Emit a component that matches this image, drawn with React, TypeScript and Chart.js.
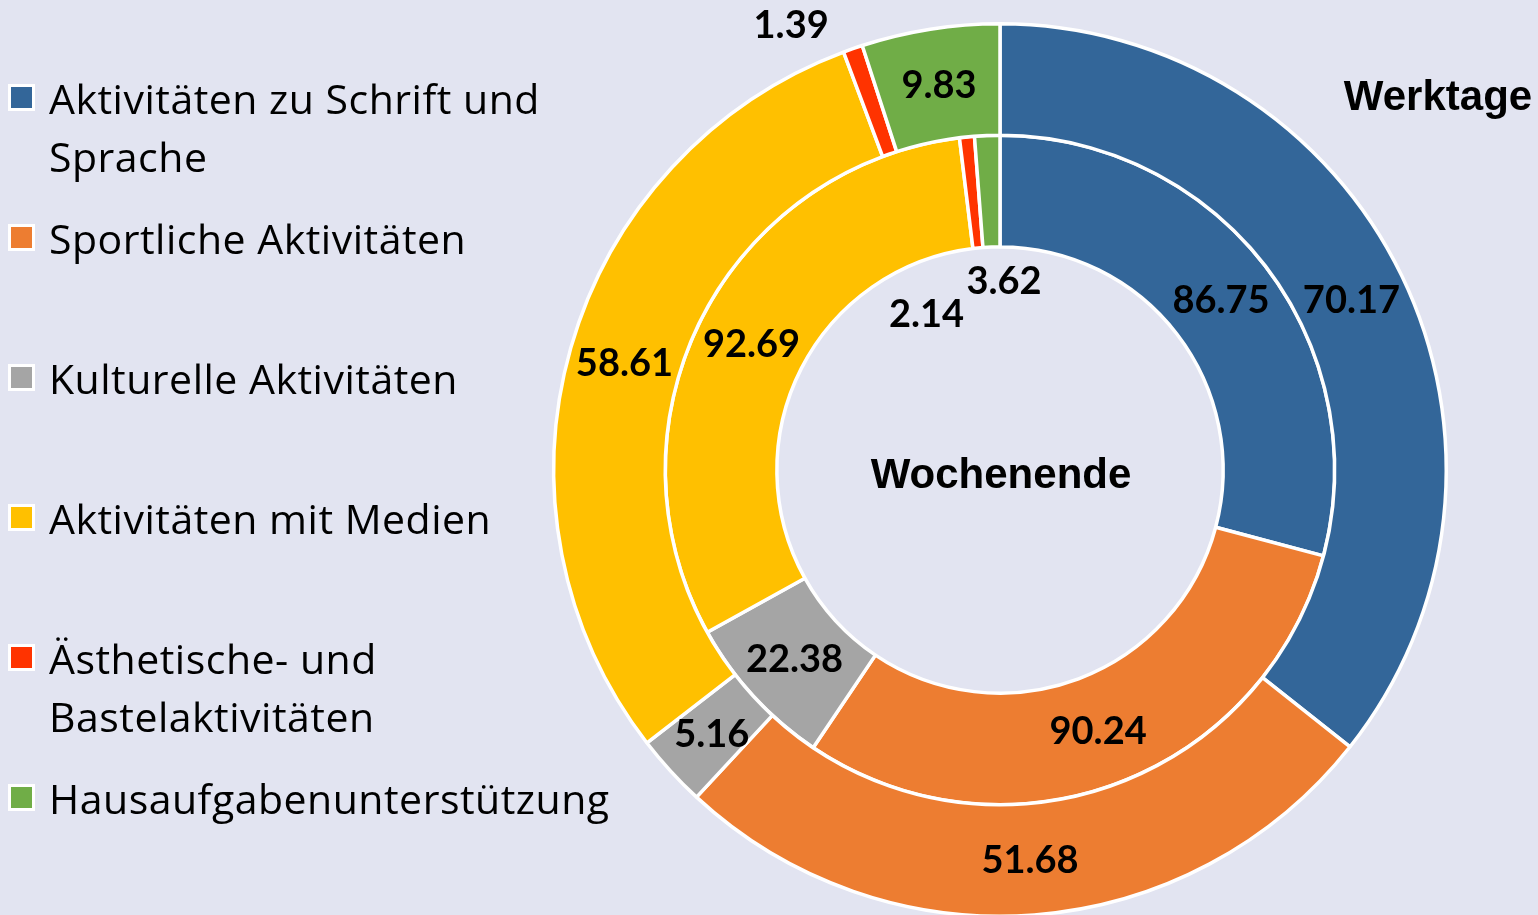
import React, { useEffect, useRef } from "react";
import { Chart, registerables } from "chart.js";

Chart.register(...registerables);

const categories = [
  "Aktivitäten zu Schrift und Sprache",
  "Sportliche Aktivitäten",
  "Kulturelle Aktivitäten",
  "Aktivitäten mit Medien",
  "Ästhetische- und Bastelaktivitäten",
  "Hausaufgabenunterstützung",
];
const seriesNames = ["Werktage", "Wochenende"];
const werktage = [70.17, 51.68, 5.16, 58.61, 1.39, 9.83];
const wochenende = [86.75, 90.24, 22.38, 92.69, 2.14, 3.62];
const colors = ["#336699", "#ED7D31", "#A5A5A5", "#FFC000", "#FF3300", "#70AD47"];

// label nudges per ring: [radial shift px, angular shift deg]
const outerLabelNudge = [[0, 0], [0, 0], [0, 0], [0, 0], [101, -5.9], [0, 0]];
const innerLabelNudge = [[0, 0], [0, 0], [0, 0], [0, 0], [-106, -19.5], [-90, 3.4]];
const labelNudges = [outerLabelNudge, innerLabelNudge];

const BG = "#E2E4F1";

const ringLabels = {
  id: "ringLabels",
  afterDatasetsDraw(chart: any) {
    const ctx = chart.ctx;
    ctx.save();
    ctx.fillStyle = "#000";
    ctx.textAlign = "center";
    ctx.textBaseline = "middle";
    ctx.font = "bold 38px Lato";
    chart.data.datasets.forEach((ds: any, di: number) => {
      const meta = chart.getDatasetMeta(di);
      meta.data.forEach((arc: any, i: number) => {
        const p = arc.getProps(["x", "y", "startAngle", "endAngle", "innerRadius", "outerRadius"], true);
        const n = labelNudges[di][i];
        const mid = (p.startAngle + p.endAngle) / 2 + (n[1] * Math.PI) / 180;
        const r = (p.innerRadius + p.outerRadius) / 2 + n[0];
        ctx.fillText(String(ds.data[i]), p.x + Math.cos(mid) * r, p.y + Math.sin(mid) * r + 1);
      });
    });
    const a = chart.getDatasetMeta(0).data[0];
    const cx = a.x;
    const cy = a.y;
    ctx.font = "bold 42px 'Liberation Sans'";
    ctx.fillText(seriesNames[1], cx + 1, cy + 6);
    ctx.fillText(seriesNames[0], cx + 438, cy - 372);
    ctx.restore();
  },
};

export default function App() {
  const ref = useRef<HTMLCanvasElement | null>(null);

  useEffect(() => {
    if (!ref.current) return;
    const chart = new Chart(ref.current, {
      type: "doughnut",
      data: {
        labels: categories,
        datasets: [
          {
            label: seriesNames[0],
            data: werktage,
            backgroundColor: colors,
            borderColor: "#FFFFFF",
            borderWidth: 3.5,
            hoverOffset: 0,
            offset: 0,
          },
          {
            label: seriesNames[1],
            data: wochenende,
            backgroundColor: colors,
            borderColor: "#FFFFFF",
            borderWidth: 3.5,
            hoverOffset: 0,
            offset: 0,
          },
        ],
      },
      options: {
        responsive: false,
        animation: false,
        cutout: "50%",
        layout: { padding: { left: 552, right: 90, top: 22, bottom: 22 } },
        plugins: {
          legend: { display: false },
          tooltip: { enabled: false },
          title: { display: false },
        },
        events: [],
      },
      plugins: [ringLabels],
    });
    return () => chart.destroy();
  }, []);

  return (
    <div
      style={{
        position: "fixed",
        left: 0,
        top: 0,
        width: 1538,
        height: 915,
        overflow: "hidden",
        background: BG,
      }}
    >
      <canvas ref={ref} width={1538} height={940} style={{ position: "absolute", left: 0, top: 0 }} />
      {categories.map((c, i) => (
        <div
          key={c}
          style={{ position: "absolute", left: 8, top: 69 + 140 * i, display: "flex", alignItems: "flex-start" }}
        >
          <span
            style={{
              display: "block",
              flex: "none",
              width: 21,
              height: 21,
              marginTop: 15,
              border: "3px solid #FFFFFF",
              background: colors[i],
            }}
          />
          <span
            style={{
              display: "block",
              marginLeft: 14,
              width: 560,
              font: "41px 'Open Sans'",
              letterSpacing: "0.5px",
              lineHeight: "58px",
              color: "#000",
            }}
          >
            {c}
          </span>
        </div>
      ))}
    </div>
  );
}
